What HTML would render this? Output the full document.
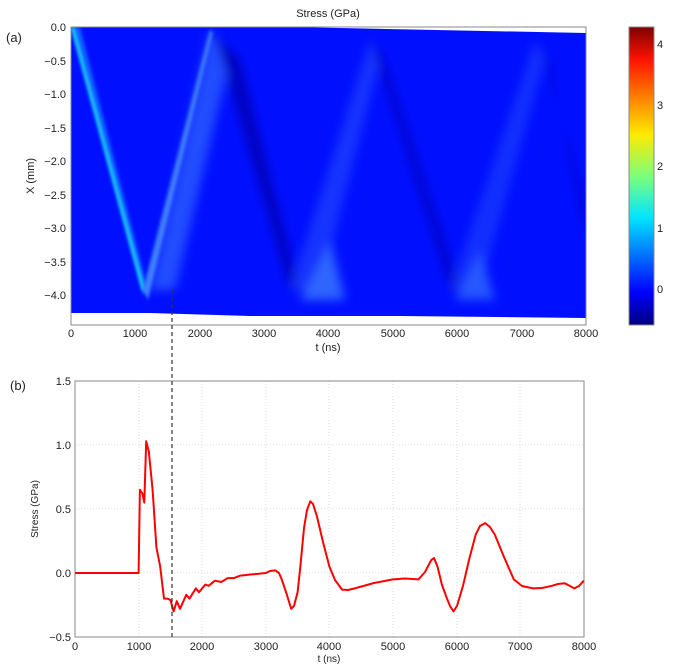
<!DOCTYPE html>
<html><head><meta charset="utf-8"><style>
body{margin:0;background:#fff;width:675px;height:666px;overflow:hidden}
svg text{font-family:"Liberation Sans",sans-serif;fill:#222}
</style></head><body>
<svg width="675" height="666" viewBox="0 0 675 666" xmlns="http://www.w3.org/2000/svg">
<defs>
<filter id="b2"><feGaussianBlur stdDeviation="1.5"/></filter>
<filter id="b5"><feGaussianBlur stdDeviation="5"/></filter>
<linearGradient id="jet" x1="0" y1="1" x2="0" y2="0">
<stop offset="0" stop-color="#00007f"/><stop offset="0.11" stop-color="#0000ff"/>
<stop offset="0.36" stop-color="#00e5ff"/><stop offset="0.5" stop-color="#7dff7a"/>
<stop offset="0.64" stop-color="#ffea00"/><stop offset="0.89" stop-color="#ff1300"/>
<stop offset="1" stop-color="#7f0000"/></linearGradient>
<clipPath id="c1"><rect x="71" y="27" width="515" height="298"/></clipPath>
</defs>
<g clip-path="url(#c1)">
<rect x="71" y="27" width="515" height="298" fill="#0010ff"/>
<g filter="url(#b5)" opacity="0.8">
<polygon points="150,290 210,30 230,60 175,290" fill="#2a5cff"/>
<polygon points="215,35 290,290 300,290 240,60" fill="#0000b0"/>
<polygon points="290,290 370,40 380,60 320,290" fill="#2a50ff" opacity="0.7"/>
<polygon points="300,300 330,240 345,300" fill="#3a7aff"/>
<polygon points="370,40 450,290 462,290 385,60" fill="#0000b8" opacity="0.8"/>
<polygon points="450,290 535,40 545,60 480,290" fill="#2a50ff" opacity="0.6"/>
<polygon points="455,300 480,250 495,300" fill="#3a7aff" opacity="0.8"/>
<polygon points="540,45 586,200 586,240 550,60" fill="#0000b8" opacity="0.7"/>
</g>
<polygon points="71,27 80,27 148,290 143,295" fill="#1060ff" filter="url(#b2)"/>
<polygon points="71,27 74,27 145,290 142,290" fill="#20e0ff" filter="url(#b2)"/>
<polygon points="143,290 210,30 213,32 148,300" fill="#4080ff" filter="url(#b2)"/>
<path d="M71,27 L290,27 L586,33 L586,25 L71,25Z" fill="#fff"/>
<path d="M71,313 L150,313 L250,316 L400,316 L586,318 L586,330 L71,330Z" fill="#fff"/>
</g>
<rect x="71" y="27" width="515" height="298" fill="none" stroke="#888" stroke-width="1"/>
<text x="328" y="17" font-size="11" text-anchor="middle">Stress (GPa)</text>
<text x="6" y="42" font-size="13">(a)</text>
<g font-size="11" text-anchor="end">
<text x="66" y="31">0.0</text><text x="66" y="65">−0.5</text><text x="66" y="98">−1.0</text><text x="66" y="132">−1.5</text><text x="66" y="165">−2.0</text><text x="66" y="199">−2.5</text><text x="66" y="232">−3.0</text><text x="66" y="266">−3.5</text><text x="66" y="299">−4.0</text>
</g>
<text transform="translate(34,176) rotate(-90)" font-size="11" text-anchor="middle">X (mm)</text>
<g font-size="11" text-anchor="middle">
<text x="71" y="337">0</text><text x="135" y="337">1000</text><text x="200" y="337">2000</text><text x="264" y="337">3000</text><text x="328" y="337">4000</text><text x="393" y="337">5000</text><text x="457" y="337">6000</text><text x="522" y="337">7000</text><text x="586" y="337">8000</text>
<text x="328" y="351">t (ns)</text>
</g>
<rect x="629" y="27" width="25" height="298" fill="url(#jet)" stroke="#888"/>
<g font-size="11"><text x="657" y="48">4</text><text x="657" y="109">3</text><text x="657" y="170">2</text><text x="657" y="232">1</text><text x="657" y="293">0</text></g>
<text x="10" y="390" font-size="13">(b)</text>
<g stroke="#ddd" stroke-dasharray="1,2" stroke-width="1">
<line x1="75" y1="445" x2="584" y2="445"/><line x1="75" y1="509" x2="584" y2="509"/><line x1="75" y1="573" x2="584" y2="573"/>
<line x1="139" y1="381" x2="139" y2="637"/><line x1="202" y1="381" x2="202" y2="637"/><line x1="266" y1="381" x2="266" y2="637"/><line x1="329" y1="381" x2="329" y2="637"/><line x1="393" y1="381" x2="393" y2="637"/><line x1="457" y1="381" x2="457" y2="637"/><line x1="520" y1="381" x2="520" y2="637"/>
</g>
<rect x="75" y="381" width="509" height="256" fill="none" stroke="#888"/>
<polyline fill="none" stroke="#ff0000" stroke-width="2" stroke-linejoin="round" points="75,573 138.6,573 139.9,489.8 142.4,493.6 144.3,502.6 146.2,441.2 148.8,451.4 152.6,489.8 156.4,547.4 160.2,566.6 164,598.6 167.2,598.6 170.4,599.9 173.6,611.4 176.8,601.2 180,608.8 186.3,594.8 189.5,598.6 195.8,588.4 199,592.2 205.4,584.5 208.6,585.8 214.9,580.7 221.3,582 227.6,578.1 234,578.1 240.4,575.6 253,574.3 265.8,573 270,571 275.3,570.4 279,573 281.7,579.4 286,592 291.2,608.8 294,606 297.6,592.2 300,570 304,528.2 307,510 310.3,501.3 313,504 316.7,515.4 323,542 329.4,566.6 335,580 342.1,589.6 348,590 354.8,588.4 374,583 393,579.4 405,578.5 418.4,579.4 425,572 431.2,560.2 434,558 437.5,566.6 442,585 447,598.6 450,606 453.4,611.4 457,606 463,585.8 469,560 475.7,534.6 480,526 485.2,523.1 490,527 494.8,534.6 504,557 513.8,579.4 522,586 532.9,588.4 542,588 552,585.8 558,584 564.7,583.2 570,586 574.3,588.4 579,586 583.8,580.7"/>
<g font-size="11" text-anchor="end">
<text x="71" y="385">1.5</text><text x="71" y="449">1.0</text><text x="71" y="513">0.5</text><text x="71" y="577">0.0</text><text x="71" y="641">−0.5</text>
</g>
<g font-size="11" text-anchor="middle">
<text x="75" y="650">0</text><text x="139" y="650">1000</text><text x="202" y="650">2000</text><text x="266" y="650">3000</text><text x="329" y="650">4000</text><text x="393" y="650">5000</text><text x="457" y="650">6000</text><text x="520" y="650">7000</text><text x="584" y="650">8000</text>
<text x="329" y="662" font-size="10">t (ns)</text>
</g>
<text transform="translate(38,509) rotate(-90)" font-size="10" text-anchor="middle">Stress (GPa)</text>
<line x1="172" y1="290" x2="172" y2="637" stroke="#333" stroke-width="1.2" stroke-dasharray="4,3"/>
</svg>
</body></html>
